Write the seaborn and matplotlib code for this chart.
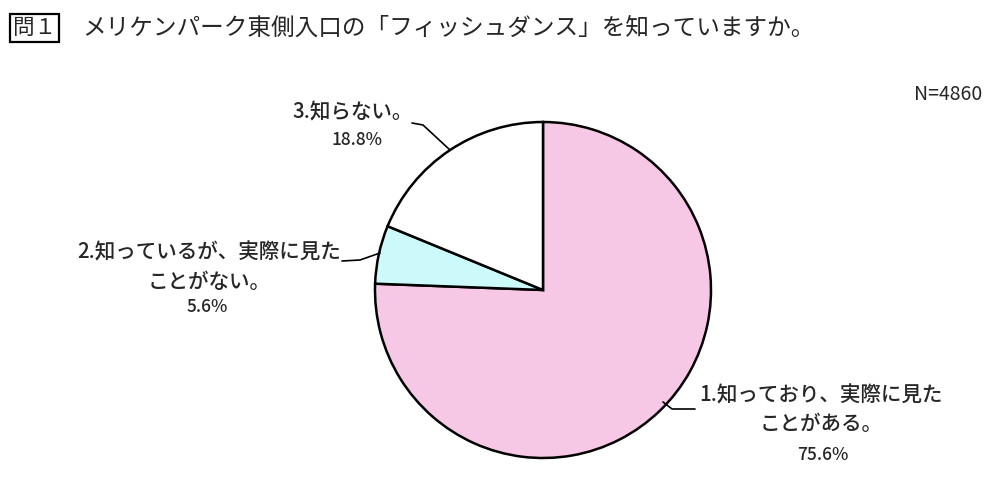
import matplotlib.pyplot as plt
import seaborn as sns

# survey answers (clockwise from 12 o'clock)
answers = ["1.知っており、実際に見た\nことがある。",
           "2.知っているが、実際に見た\nことがない。",
           "3.知らない。"]
shares = [75.6, 5.6, 18.8]
colors = ["#f6c8e6", "#ccfafa", "#ffffff"]
n_total = 4860

sns.set_theme(style="white")
plt.rcParams["font.family"] = ["Noto Sans CJK JP", "DejaVu Sans"]

fig = plt.figure(figsize=(10, 4.96), dpi=100)
# axes in pixel units, y measured up from the bottom
ax = fig.add_axes([0, 0, 1, 1])
H = 496
cx, cy, r = 543, H - 290, 168

ax.pie(shares, colors=colors, startangle=90, counterclock=False,
       center=(cx, cy), radius=r,
       wedgeprops=dict(edgecolor="black", linewidth=1.8))
ax.set_xlim(0, 1000)
ax.set_ylim(0, H)
ax.set_aspect("equal")
ax.axis("off")

# title
fig.text(13 / 1000, 1 - 28 / H, "問１", fontsize=15.5, va="center", ha="left",
         bbox=dict(boxstyle="square,pad=0.12", fc="white", ec="black", lw=1.6))
fig.text(82 / 1000, 1 - 28 / H,
         "メリケンパーク東側入口の「フィッシュダンス」を知っていますか。",
         fontsize=17, va="center", ha="left")

fig.text(948 / 1000, 1 - 95 / H, f"N={n_total}", fontsize=14,
         ha="center", va="center")

# labels: text centre (x, y of each line) and leader line points
label_pos = [(821, 395), (209, 252), (353, 112)]
pct_pos = [(823, 455), (207, 307), (357, 140)]
leaders = [[(663, 402), (672, 409), (695, 409)],
           [(380, 253), (360, 260), (342, 261)],
           [(450, 150), (423, 125), (412, 123)]]

for text, val, (lx, ly), (px, py), pts in zip(answers, shares, label_pos,
                                              pct_pos, leaders):
    for i, line in enumerate(text.split("\n")):
        ax.text(lx, H - ly - 29.5 * i, line, fontsize=14.8,
                fontweight="medium", ha="center", va="center")
    ax.text(px, H - py, f"{val:.1f}%", fontsize=12.5, fontweight="medium",
            ha="center", va="center")
    ax.plot([p[0] for p in pts], [H - p[1] for p in pts], color="black", lw=1.2)

fig.savefig("out.png", dpi=100)
